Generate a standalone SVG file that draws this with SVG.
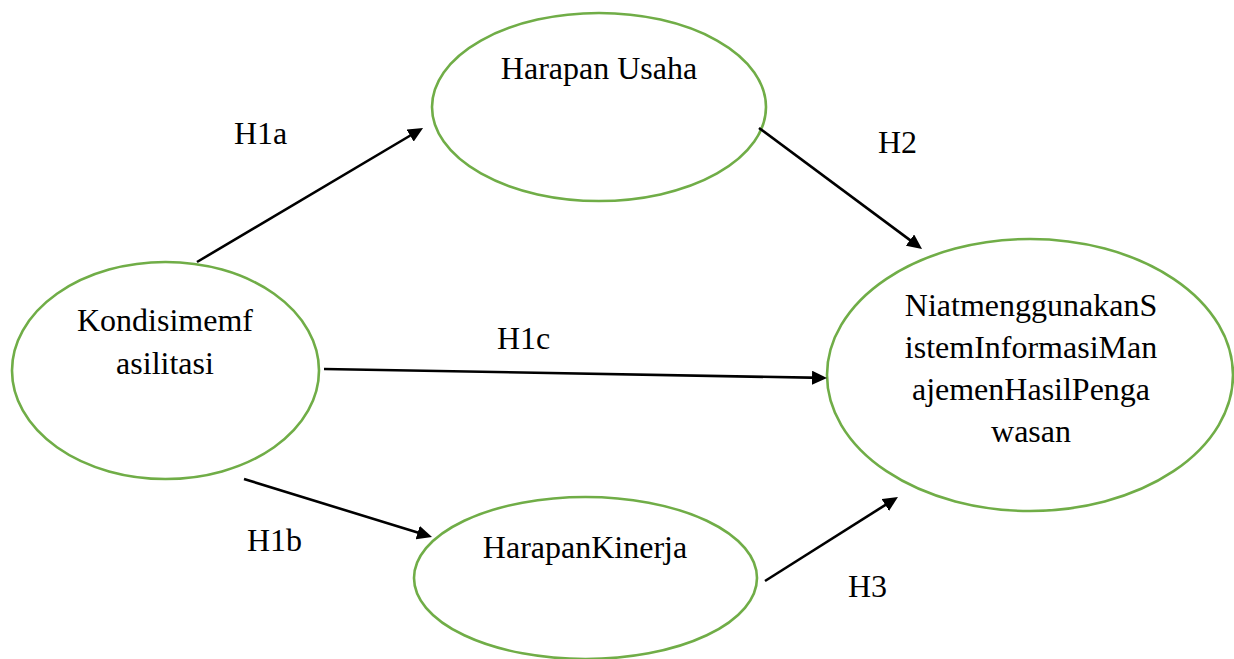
<svg xmlns="http://www.w3.org/2000/svg" width="1234" height="659" viewBox="0 0 1234 659">
<style>
.node{fill:#ffffff;stroke:#70AD47;stroke-width:2.6}
.t{font-family:'Liberation Serif',Tinos,'Times New Roman',Times,'DejaVu Serif',serif;font-size:32px;fill:#000;text-anchor:middle}
.lbl{font-family:'Liberation Serif',Tinos,'Times New Roman',Times,'DejaVu Serif',serif;font-size:32px;fill:#000}
.edge{stroke:#000;stroke-width:2.6;fill:none;marker-end:url(#ah)}
</style>
<defs>
<marker id="ah" viewBox="0 0 15 14" refX="11" refY="7" markerWidth="15" markerHeight="14" markerUnits="userSpaceOnUse" orient="auto">
<path d="M0,0 L15,7 L0,14 Z" fill="#000"/>
</marker>
</defs>
<rect width="1234" height="659" fill="#ffffff"/>
<g id="n-harapan-usaha">
<ellipse class="node" cx="599" cy="107" rx="167" ry="94"/>
<text class="t" x="599" y="79">Harapan Usaha</text>
</g>
<g id="n-kondisi">
<ellipse class="node" cx="165.5" cy="370.5" rx="153.5" ry="108.5"/>
<text class="t" x="165" y="331">Kondisimemf</text>
<text class="t" x="165" y="374">asilitasi</text>
</g>
<g id="n-niat">
<ellipse class="node" cx="1030" cy="375" rx="203" ry="136"/>
<text class="t" x="1031" y="316">NiatmenggunakanS</text>
<text class="t" x="1031" y="358">istemInformasiMan</text>
<text class="t" x="1031" y="400">ajemenHasilPenga</text>
<text class="t" x="1031" y="442">wasan</text>
</g>
<g id="n-harapan-kinerja">
<ellipse class="node" cx="585.5" cy="578" rx="171.5" ry="81"/>
<text class="t" x="585" y="558">HarapanKinerja</text>
</g>
<g id="connectors">
<line class="edge" x1="197" y1="262" x2="419.6" y2="130"/>
<line class="edge" x1="759" y1="128" x2="918.8" y2="246.6"/>
<line class="edge" x1="324" y1="369" x2="823" y2="377.9"/>
<line class="edge" x1="244" y1="479" x2="428.2" y2="535.8"/>
<line class="edge" x1="765" y1="581" x2="894.6" y2="499.1"/>
</g>
<g id="labels">
<text class="lbl" x="234" y="144">H1a</text>
<text class="lbl" x="878" y="153">H2</text>
<text class="lbl" x="497" y="349">H1c</text>
<text class="lbl" x="247" y="551">H1b</text>
<text class="lbl" x="848" y="597">H3</text>
</g>
</svg>
